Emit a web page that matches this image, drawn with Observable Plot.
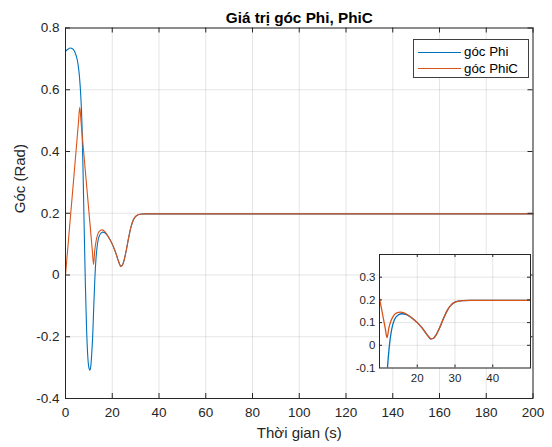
<!DOCTYPE html>
<html>
<head>
<meta charset="utf-8">
<script src="https://cdn.jsdelivr.net/npm/d3@7"></script>
<script src="https://cdn.jsdelivr.net/npm/@observablehq/plot@0.6"></script>
<style>
  html, body { margin: 0; padding: 0; background: #fff; }
  #wrap { position: relative; width: 552px; height: 447px; font-family: "Liberation Sans", Arial, sans-serif; color: #262626; }
  #wrap svg { display: block; }
  #inset { position: absolute; left: 339px; top: 250px; }
  #legend { position: absolute; left: 413px; top: 39px; width: 116px; height: 39px; border: 1px solid #404040; background: #fff; box-sizing: border-box; }
  .row { position: absolute; left: 0; height: 16px; width: 100%; font-size: 13.3px; line-height: 16px; }
  .row .ln { position: absolute; left: 4px; top: 7.5px; width: 43px; height: 0; border-top: 1.2px solid; }
  .row .tx { position: absolute; left: 50px; top: 0; white-space: nowrap; color: #000; }
</style>
</head>
<body>
<div id="wrap"></div>
<script>
// ---- data ----
const chartTitle = "Giá trị góc Phi, PhiC";
const xLabel = "Thời gian (s)";
const yLabel = "Góc (Rad)";
const seriesNames = ["góc Phi", "góc PhiC"];
const seriesColors = ["#0072BD", "#D95319"];

const xTicks = [0, 20, 40, 60, 80, 100, 120, 140, 160, 180, 200];
const yTicks = [-0.4, -0.2, 0, 0.2, 0.4, 0.6, 0.8];
const insetXTicks = [20, 30, 40];
const insetYTicks = [-0.1, 0, 0.1, 0.2, 0.3];

// góc Phi
const tPhi = [0, 1, 2, 3, 4, 5, 5.5, 6, 6.5, 7, 7.5, 8, 8.5, 9, 9.5, 10, 10.4, 10.8, 11.2, 11.7, 12.1, 12.6, 13, 13.5, 14, 15, 16, 17, 18, 19, 20, 21, 22, 23, 23.6, 24.3, 25, 26, 27, 28, 29, 30, 31, 32, 34, 40, 200];
const phi  = [0.724, 0.731, 0.735, 0.733, 0.722, 0.698, 0.675, 0.64, 0.585, 0.5, 0.34, 0.15, -0.03, -0.17, -0.26, -0.30, -0.308, -0.297, -0.258, -0.185, -0.1, -0.005, 0.048, 0.09, 0.115, 0.134, 0.139, 0.136, 0.127, 0.115, 0.1, 0.082, 0.06, 0.038, 0.028, 0.031, 0.046, 0.08, 0.12, 0.155, 0.178, 0.19, 0.195, 0.197, 0.198, 0.198, 0.198];

// góc PhiC
const tPhiC = [0, 2, 4, 5.5, 6.1, 6.7, 8, 10, 11.5, 12, 12.5, 13, 13.5, 14, 15, 15.6, 16.3, 17, 18, 19, 20, 21, 22, 23, 23.6, 24.3, 25, 26, 27, 28, 29, 30, 31, 32, 34, 40, 200];
const phiC  = [0, 0.178, 0.356, 0.49, 0.543, 0.491, 0.379, 0.207, 0.077, 0.034, 0.078, 0.106, 0.124, 0.136, 0.145, 0.146, 0.144, 0.139, 0.128, 0.115, 0.1, 0.082, 0.06, 0.038, 0.028, 0.031, 0.046, 0.08, 0.12, 0.155, 0.178, 0.19, 0.195, 0.197, 0.198, 0.198, 0.198];

// ---- tables ----
const dPhi = tPhi.map((t, i) => ({t, v: phi[i]}));
const dPhiC = tPhiC.map((t, i) => ({t, v: phiC[i]}));

const ink = "#262626";
const fmt = d => String(d);

// ---- main chart ----
const W = 552, H = 447;
const mL = 65, mR = 19.5, mT = 27.5, mB = 49;
const fw = W - mL - mR, fh = H - mT - mB;
const tk = 5;

const main = Plot.plot({
  width: W, height: H,
  marginLeft: mL, marginRight: mR, marginTop: mT, marginBottom: mB,
  x: {domain: [0, 200]},
  y: {domain: [-0.4, 0.8]},
  style: {fontFamily: "Liberation Sans, Arial, sans-serif", fontSize: "13.5px", color: ink, background: "white", overflow: "visible"},
  marks: [
    Plot.gridX(xTicks, {stroke: "#000", strokeOpacity: 0.1}),
    Plot.gridY(yTicks, {stroke: "#000", strokeOpacity: 0.1}),
    Plot.line(dPhi, {x: "t", y: "v", stroke: seriesColors[0], strokeWidth: 1.1, curve: "monotone-x"}),
    Plot.line(dPhiC, {x: "t", y: "v", stroke: seriesColors[1], strokeWidth: 1.1, curve: "monotone-x"}),
    Plot.frame({stroke: ink}),
    Plot.tickX(xTicks, {x: d => d, insetTop: fh - tk, stroke: ink}),
    Plot.tickX(xTicks, {x: d => d, insetBottom: fh - tk, stroke: ink}),
    Plot.tickY(yTicks, {y: d => d, insetRight: fw - tk, stroke: ink}),
    Plot.tickY(yTicks, {y: d => d, insetLeft: fw - tk, stroke: ink}),
    Plot.axisX(xTicks, {tickSize: 0, tickPadding: 9, tickFormat: fmt, label: null, fill: ink}),
    Plot.axisY(yTicks, {tickSize: 0, tickPadding: 6, tickFormat: fmt, label: null, fill: ink}),
    Plot.text([xLabel], {frameAnchor: "bottom", dy: 39, fontSize: 15, fill: ink}),
    Plot.text([yLabel], {frameAnchor: "left", dx: -45, rotate: -90, fontSize: 15, fill: ink}),
    Plot.text([chartTitle], {frameAnchor: "top", dy: -15.5, fontSize: 15.3, fontWeight: "bold", fill: "#000"})
  ]
});

// ---- inset ----
const iW = 193, iH = 145;
const imL = 40, imR = 2, imT = 4, imB = 27.5;
const ifw = iW - imL - imR, ifh = iH - imT - imB;
const itk = 3;

const inset = Plot.plot({
  width: iW, height: iH,
  marginLeft: imL, marginRight: imR, marginTop: imT, marginBottom: imB,
  x: {domain: [10, 50]},
  y: {domain: [-0.1, 0.4]},
  clip: true,
  style: {fontFamily: "Liberation Sans, Arial, sans-serif", fontSize: "11.5px", color: ink, background: "transparent", overflow: "visible"},
  marks: [
    Plot.frame({fill: "white", stroke: null}),
    Plot.gridX(insetXTicks, {stroke: "#000", strokeOpacity: 0.1}),
    Plot.gridY(insetYTicks, {stroke: "#000", strokeOpacity: 0.1}),
    Plot.line(dPhi, {x: "t", y: "v", stroke: seriesColors[0], strokeWidth: 1.3, curve: "monotone-x", clip: true}),
    Plot.line(dPhiC, {x: "t", y: "v", stroke: seriesColors[1], strokeWidth: 1.3, curve: "monotone-x", clip: true}),
    Plot.frame({stroke: ink}),
    Plot.tickX(insetXTicks, {x: d => d, insetTop: ifh - itk, stroke: ink}),
    Plot.tickX(insetXTicks, {x: d => d, insetBottom: ifh - itk, stroke: ink}),
    Plot.tickY(insetYTicks, {y: d => d, insetRight: ifw - itk, stroke: ink}),
    Plot.tickY(insetYTicks, {y: d => d, insetLeft: ifw - itk, stroke: ink}),
    Plot.axisX(insetXTicks, {tickSize: 0, tickPadding: 6, tickFormat: fmt, label: null, fill: ink}),
    Plot.axisY(insetYTicks, {tickSize: 0, tickPadding: 4, tickFormat: fmt, label: null, fill: ink})
  ]
});

const wrap = document.getElementById("wrap");
wrap.appendChild(main);
const insetDiv = document.createElement("div");
insetDiv.id = "inset";
insetDiv.appendChild(inset);
wrap.appendChild(insetDiv);

// ---- legend ----
const legend = document.createElement("div");
legend.id = "legend";
seriesNames.forEach((name, i) => {
  const row = document.createElement("div");
  row.className = "row";
  row.style.top = (4 + i * 16.6) + "px";
  const ln = document.createElement("span");
  ln.className = "ln";
  ln.style.borderTopColor = seriesColors[i];
  const tx = document.createElement("span");
  tx.className = "tx";
  tx.textContent = name;
  row.appendChild(ln);
  row.appendChild(tx);
  legend.appendChild(row);
});
wrap.appendChild(legend);
</script>
</body>
</html>
